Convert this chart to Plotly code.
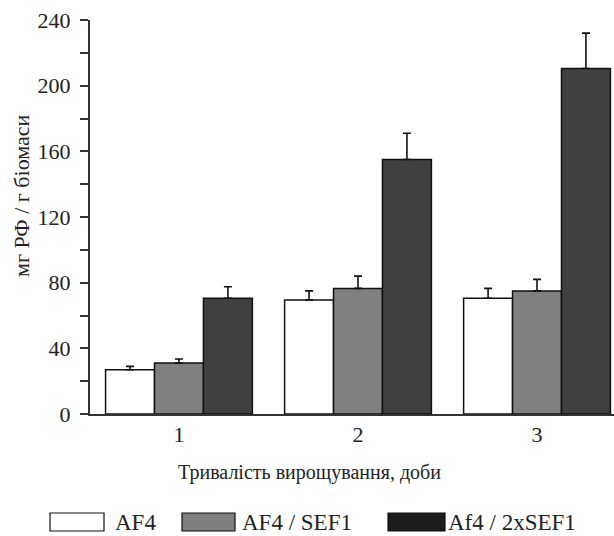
import plotly.graph_objects as go

days = [1, 2, 3]
day_labels = ["1", "2", "3"]
series_names = ["AF4", "AF4 / SEF1", "Af4 / 2xSEF1"]
af4 = [27, 69.5, 70.5]
af4_err = [2, 5.5, 6]
af4_sef1 = [31, 76.5, 75]
af4_sef1_err = [2.5, 7.5, 7]
af4_2xsef1 = [70.5, 155, 210.5]
af4_2xsef1_err = [7, 16, 21.5]
y_ticks = [0, 40, 80, 120, 160, 200, 240]

colors = ["#ffffff", "#808080", "#404040"]
legend_colors = ["#ffffff", "#7f7f7f", "#1c1c1c"]
values = [af4, af4_sef1, af4_2xsef1]
errors = [af4_err, af4_sef1_err, af4_2xsef1_err]

FONT = "Liberation Serif"
W, H = 614, 536
L, R, T, B = 90, 0, 20, 122
PW, PH = W - L - R, H - T - B

def px_x(x):
    return (x - L) / PW

def px_y(y):
    return (H - B - y) / PH

fig = go.Figure()
for name, v, e, c in zip(series_names, values, errors, colors):
    fig.add_trace(go.Bar(
        x=days, y=v, name=name,
        marker=dict(color=c, line=dict(color="#111111", width=1.5)),
        error_y=dict(type="data", array=e, arrayminus=[0] * len(e), symmetric=False,
                     color="#111111", thickness=1.6, width=4),
        showlegend=False, hoverinfo="skip",
    ))

fig.update_layout(
    width=W, height=H,
    margin=dict(l=L, r=R, t=T, b=B),
    barmode="group", bargap=0.18, bargroupgap=0,
    plot_bgcolor="white", paper_bgcolor="white",
    font=dict(family=FONT, size=23, color="#222222"),
    xaxis=dict(
        range=[0.503, 3.43], tickmode="array", tickvals=days, ticktext=day_labels,
        showline=True, linecolor="#333333", linewidth=2, ticks="",
        showgrid=False, zeroline=False, ticklabelstandoff=0,
        tickfont=dict(family=FONT, size=22),
    ),
    yaxis=dict(
        range=[0, 240], tickmode="array", tickvals=y_ticks,
        showline=True, linecolor="#333333", linewidth=2,
        ticks="outside", ticklen=8, tickwidth=2, tickcolor="#333333",
        minor=dict(dtick=20, tick0=0, ticks="outside", ticklen=8, tickwidth=2, tickcolor="#333333"),
        showgrid=False, zeroline=False, ticklabelstandoff=5,
        tickfont=dict(family=FONT, size=22),
    ),
)

# axis titles
fig.add_annotation(text="мг РФ / г біомаси", xref="paper", yref="paper",
                   x=px_x(21), y=px_y(196), textangle=-90, showarrow=False,
                   xanchor="center", yanchor="middle", font=dict(family=FONT, size=22))
fig.add_annotation(text="Тривалість вирощування, доби", xref="paper", yref="paper",
                   x=px_x(309), y=px_y(472), showarrow=False,
                   xanchor="center", yanchor="middle", font=dict(family=FONT, size=20))

# legend (manual)
leg_boxes = [(50, 104), (182, 235), (388, 445)]
leg_text_x = [113, 240, 446]
for (bx0, bx1), tx, name, c in zip(leg_boxes, leg_text_x, series_names, legend_colors):
    fig.add_shape(type="rect", xref="paper", yref="paper",
                  x0=px_x(bx0), x1=px_x(bx1), y0=px_y(531), y1=px_y(513),
                  fillcolor=c, line=dict(color="#111111", width=1.2))
    fig.add_annotation(text=name, xref="paper", yref="paper",
                       x=px_x(tx), y=px_y(522.5), showarrow=False,
                       xanchor="left", yanchor="middle", font=dict(family=FONT, size=23))

fig.write_html("out.html", config={"displayModeBar": False},
               post_script="document.body.style.margin='0';")
